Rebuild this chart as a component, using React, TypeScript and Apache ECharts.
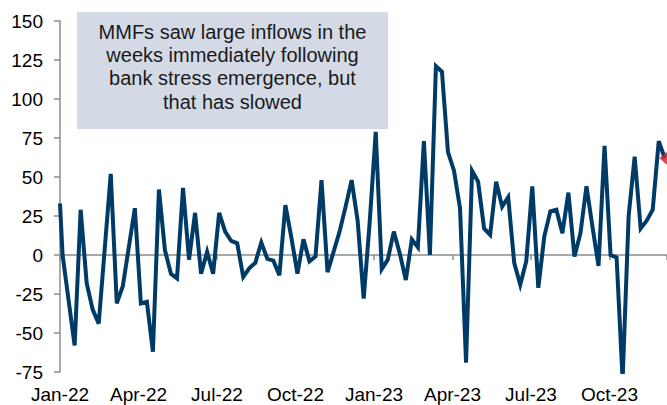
import React, { useEffect, useRef } from "react";
import * as echarts from "echarts";

// Weekly net flows into money market funds ($bn), first weekly observation 4-Jan-2022
const firstWeek = "2022-01-04";
// value of the line where it meets the left edge of the chart (1-Jan-2022)
const openingValue = 33;
const flows = [
  0, -29, -58, 29, -18, -35, -44, 4, 52,
  -31, -20, 5, 30, -31, -30, -62, 42, 3, -12,
  -15, 43, -3, 27, -12, 2, -12, 27, 15, 9,
  7.5, -14, -8.5, -5, 8, -2.5, -3.6, -13, 32, 11,
  -12, 10, -4, -1, 48, -11, 2, 15, 31, 48,
  22, -28, 21, 79, -9, -3, 15, 1, -16, 10,
  5, 73, 0, 121, 117.5, 66, 54, 30, -69, 54,
  47, 17, 13, 47, 31, 37, -5, -19, -4, 44,
  -21, 12, 28, 29, 14, 40, -1, 14, 44, 18,
  -7, 70, 0, -1.5, -80, 25, 63, 17, 22, 29,
  73, 62,
];
const tickLabels = ["Jan-22", "Apr-22", "Jul-22", "Oct-22", "Jan-23", "Apr-23", "Jul-23", "Oct-23"];
const noteLines = [
  "MMFs saw large inflows in the",
  "weeks immediately following",
  "bank stress emergence, but",
  "that has slowed",
];

const DAY = 86400000;
const axisStart = Date.UTC(2022, 0, 1);
const QUARTER_DAYS = 91.25;
const X_MAX_DAYS = 705.6;

const FONT = '"Liberation Sans", Arial, sans-serif';

export default function App() {
  const ref = useRef<HTMLDivElement>(null);

  useEffect(() => {
    if (!ref.current) return;
    const chart = echarts.init(ref.current, undefined, { renderer: "svg" });
    const t0 = Date.parse(firstWeek + "T00:00:00Z");
    const pts = [[0, openingValue]].concat(
      flows.map((v, i) => [(t0 + i * 7 * DAY - axisStart) / DAY, v])
    );
    const last = pts[pts.length - 1];

    const labelFmt = (v: number) => {
      const k = Math.round(v / QUARTER_DAYS);
      if (Math.abs(v - k * QUARTER_DAYS) > 0.5) return "";
      return tickLabels[k] ?? "";
    };

    chart.setOption({
      animation: false,
      grid: { left: 60, right: 0, top: 21, bottom: 33, containLabel: false },
      xAxis: [
        {
          type: "value",
          position: "bottom",
          min: 0,
          max: X_MAX_DAYS,
          interval: QUARTER_DAYS,
          axisLine: { show: false, onZero: false },
          axisTick: { show: false },
          splitLine: { show: false },
          axisLabel: {
            show: true,
            margin: 13,
            formatter: labelFmt,
            color: "#000",
            fontSize: 19,
            fontFamily: FONT,
            showMaxLabel: false,
          },
        },
        {
          type: "value",
          position: "bottom",
          min: 0,
          max: X_MAX_DAYS,
          interval: QUARTER_DAYS,
          axisLine: { show: true, onZero: true, lineStyle: { color: "#8c8c8c", width: 1.5 } },
          axisTick: { show: true, length: 5, lineStyle: { color: "#8c8c8c", width: 1.5 } },
          splitLine: { show: false },
          axisLabel: { show: false },
        },
      ],
      yAxis: {
        type: "value",
        min: -75,
        max: 150,
        interval: 25,
        axisLine: { show: true, onZero: false, lineStyle: { color: "#8c8c8c", width: 1.5 } },
        axisTick: { show: true, length: 6, lineStyle: { color: "#8c8c8c", width: 1.5 } },
        splitLine: { show: false },
        axisLabel: { margin: 17, color: "#000", fontSize: 19, fontFamily: FONT },
      },
      series: [
        {
          type: "line",
          xAxisIndex: 0,
          data: pts,
          showSymbol: false,
          symbol: "none",
          clip: true,
          lineStyle: { color: "#003a66", width: 4, join: "miter" },
          z: 3,
        },
        {
          type: "scatter",
          xAxisIndex: 0,
          data: [last],
          symbol: "diamond",
          symbolSize: [15, 13],
          symbolOffset: [2, 0],
          itemStyle: { color: "#c6202f" },
          z: 4,
        },
      ],
      graphic: [
        {
          type: "rect",
          shape: { x: 77, y: 12, width: 311, height: 117 },
          style: { fill: "#d3dae6" },
          z: 1,
        },
        {
          type: "text",
          x: 232.5,
          y: 20,
          z: 2,
          style: {
            text: noteLines.join("\n"),
            textAlign: "center",
            textVerticalAlign: "top",
            font: `20px ${FONT}`,
            lineHeight: 23.3,
            fill: "#1a1a1a",
          },
        },
      ],
    });
    return () => chart.dispose();
  }, []);

  return (
    <div
      ref={ref}
      style={{ position: "absolute", left: 0, top: 0, width: 667, height: 405, background: "#fff" }}
    />
  );
}
